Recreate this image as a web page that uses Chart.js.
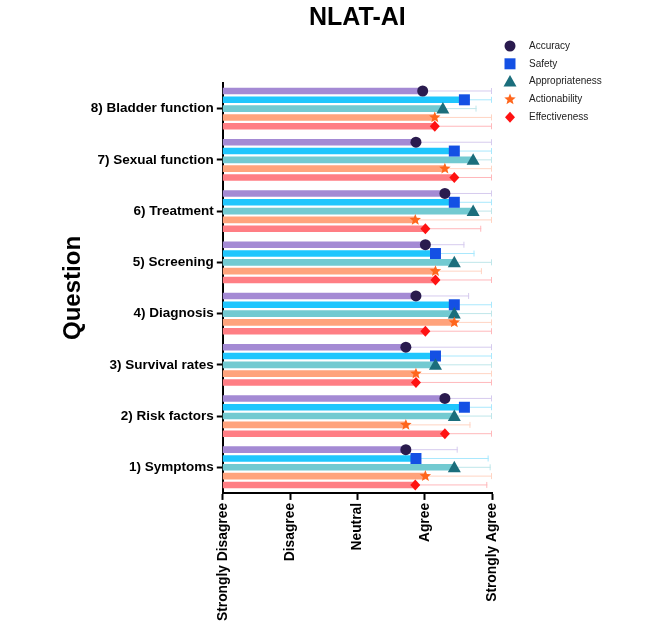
<!DOCTYPE html>
<html lang="en">
<head>
    <meta charset="UTF-8">
    <title>NLAT-AI</title>
    <style>
        body { margin: 0; background: #fff; }
        #myChart { display: block; }
    </style>
    <script src="https://cdn.jsdelivr.net/npm/chart.js"></script>
</head>
<body>
    <canvas id="myChart" width="664" height="624"></canvas>
    <script>
        // questions, top to bottom
        const questions = ['8) Bladder function', '7) Sexual function', '6) Treatment', '5) Screening',
                           '4) Diagnosis', '3) Survival rates', '2) Risk factors', '1) Symptoms'];
        const likertLabels = ['Strongly Disagree', 'Disagree', 'Neutral', 'Agree', 'Strongly Agree'];
        const seriesNames = ['Accuracy', 'Safety', 'Appropriateness', 'Actionability', 'Effectiveness'];

        // mean scores
        const accuracy        = [3.97, 3.87, 4.30, 4.01, 3.87, 3.72, 4.30, 3.72];
        const safety          = [4.59, 4.44, 4.44, 4.16, 4.44, 4.16, 4.59, 3.87];
        const appropriateness = [4.27, 4.72, 4.72, 4.44, 4.44, 4.16, 4.44, 4.44];
        const actionability   = [4.15, 4.30, 3.86, 4.16, 4.44, 3.87, 3.72, 4.01];
        const effectiveness   = [4.15, 4.44, 4.01, 4.16, 4.01, 3.87, 4.30, 3.86];

        // upper end of the error bars (clipped at 5)
        const accuracyHi        = [5, 5, 5, 4.59, 4.66, 5, 5, 4.49];
        const safetyHi          = [5, 5, 5, 4.74, 5, 5, 5, 4.95];
        const appropriatenessHi = [4.77, 5, 5, 5, 5, 5, 5, 4.98];
        const actionabilityHi   = [5, 5, 5, 4.85, 5, 5, 4.68, 5];
        const effectivenessHi   = [5, 5, 4.84, 5, 5, 5, 5, 4.93];

        const FONT = 'Arial, "Liberation Sans", Helvetica, sans-serif';

        function drawMarker(ctx, shape, x, y, color) {
            ctx.save();
            ctx.fillStyle = color;
            ctx.beginPath();
            if (shape === 'circle') {
                ctx.arc(x, y, 5.5, 0, Math.PI * 2);
            } else if (shape === 'square') {
                ctx.rect(x - 5.5, y - 5.5, 11, 11);
            } else if (shape === 'triangle') {
                ctx.moveTo(x, y - 6.5);
                ctx.lineTo(x + 6.5, y + 5);
                ctx.lineTo(x - 6.5, y + 5);
                ctx.closePath();
            } else if (shape === 'star') {
                for (let k = 0; k < 10; k++) {
                    const r = k % 2 === 0 ? 6 : 2.6;
                    const a = -Math.PI / 2 + k * Math.PI / 5;
                    const px = x + r * Math.cos(a), py = y + r * Math.sin(a);
                    if (k === 0) ctx.moveTo(px, py); else ctx.lineTo(px, py);
                }
                ctx.closePath();
            } else if (shape === 'diamond') {
                ctx.moveTo(x, y - 5.5);
                ctx.lineTo(x + 5, y);
                ctx.lineTo(x, y + 5.5);
                ctx.lineTo(x - 5, y);
                ctx.closePath();
            }
            ctx.fill();
            ctx.restore();
        }

        // markers, error bars, title and legend
        const markerPlugin = {
            id: 'markers',
            afterDatasetsDraw(chart) {
                const ctx = chart.ctx;
                const xs = chart.scales.x;
                const area = chart.chartArea;
                chart.data.datasets.forEach((ds, i) => {
                    const meta = chart.getDatasetMeta(i);
                    meta.data.forEach((bar, j) => {
                        const xEnd = xs.getPixelForValue(ds.upper[j]);
                        ctx.save();
                        ctx.strokeStyle = ds.errColor;
                        ctx.lineWidth = 1;
                        ctx.beginPath();
                        ctx.moveTo(bar.x, bar.y);
                        ctx.lineTo(xEnd, bar.y);
                        ctx.moveTo(xEnd - 0.5, bar.y - 3);
                        ctx.lineTo(xEnd - 0.5, bar.y + 3);
                        ctx.stroke();
                        ctx.restore();
                        drawMarker(ctx, ds.marker, bar.x, bar.y, ds.markerColor);
                    });
                });

                // title centred over the plot
                ctx.save();
                ctx.fillStyle = '#000';
                ctx.font = 'bold 25px ' + FONT;
                ctx.textAlign = 'center';
                ctx.textBaseline = 'middle';
                ctx.fillText('NLAT-AI', (area.left + area.right) / 2, 18);

                // legend
                ctx.font = '10px ' + FONT;
                ctx.textAlign = 'left';
                chart.data.datasets.forEach((ds, i) => {
                    const ly = 46 + i * 17.8;
                    drawMarker(ctx, ds.marker, area.right + 18, ly, ds.markerColor);
                    ctx.fillStyle = '#222';
                    ctx.fillText(ds.label, area.right + 37, ly);
                });
                ctx.restore();
            }
        };

        const styles = [
            { bar: '#a48ad4', marker: '#2a1b4e', err: '#d6cbee', shape: 'circle' },
            { bar: '#1fc6fd', marker: '#1450e4', err: '#a9e8fd', shape: 'square' },
            { bar: '#72cad1', marker: '#1b6e7c', err: '#bfe6ea', shape: 'triangle' },
            { bar: '#ffa37c', marker: '#ff661c', err: '#ffd4c3', shape: 'star' },
            { bar: '#ff7e84', marker: '#ff1212', err: '#ffb8bb', shape: 'diamond' }
        ];
        const values = [accuracy, safety, appropriateness, actionability, effectiveness];
        const uppers = [accuracyHi, safetyHi, appropriatenessHi, actionabilityHi, effectivenessHi];

        const datasets = seriesNames.map((name, i) => ({
            label: name,
            data: values[i],
            upper: uppers[i],
            backgroundColor: styles[i].bar,
            markerColor: styles[i].marker,
            errColor: styles[i].err,
            marker: styles[i].shape,
            borderWidth: 0,
            barPercentage: 0.75,
            categoryPercentage: 0.86
        }));

        const ctx = document.getElementById('myChart').getContext('2d');
        const myChart = new Chart(ctx, {
            type: 'bar',
            data: { labels: questions, datasets: datasets },
            options: {
                indexAxis: 'y',
                responsive: false,
                animation: false,
                layout: { padding: { top: 83, right: 172, left: 59, bottom: 0 } },
                scales: {
                    x: {
                        min: 1,
                        max: 5,
                        ticks: {
                            stepSize: 1,
                            maxRotation: 90,
                            minRotation: 90,
                            padding: 3,
                            color: '#000',
                            font: { family: FONT, size: 13.8, weight: 'bold' },
                            callback: v => likertLabels[v - 1]
                        },
                        grid: { drawOnChartArea: false, tickLength: 7, tickColor: '#000', tickWidth: 2 },
                        border: { color: '#000', width: 2 }
                    },
                    y: {
                        ticks: {
                            padding: 3,
                            color: '#000',
                            font: { family: FONT, size: 13.5, weight: 'bold' }
                        },
                        grid: { drawOnChartArea: false, offset: false, tickLength: 6, tickColor: '#000', tickWidth: 2 },
                        border: { color: '#000', width: 2 },
                        title: {
                            display: true,
                            text: 'Question',
                            color: '#000',
                            font: { family: FONT, size: 24, weight: 'bold' },
                            padding: { top: 0, bottom: 0 }
                        }
                    }
                },
                plugins: {
                    legend: { display: false },
                    tooltip: { enabled: false }
                }
            },
            plugins: [markerPlugin]
        });
    </script>
</body>
</html>
